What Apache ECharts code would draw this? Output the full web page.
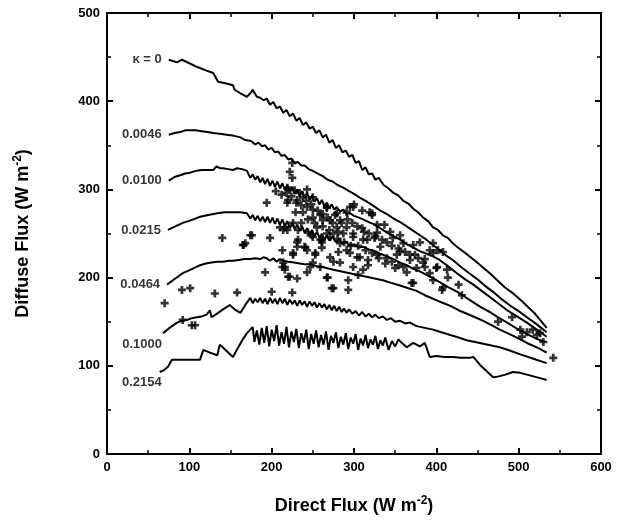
<!DOCTYPE html>
<html>
<head>
<meta charset="utf-8">
<script src="https://cdn.jsdelivr.net/npm/echarts@6/dist/echarts.min.js"></script>
<style>
  html, body { margin: 0; padding: 0; background: #fff; }
  #chart { width: 626px; height: 525px; }
</style>
</head>
<body>
<div id="chart"></div>
<script>
// curve labels, top to bottom
var kappaLabels = ['κ = 0', '0.0046', '0.0100', '0.0215', '0.0464', '0.1000', '0.2154']

// model curves [direct, diffuse]
var curveK0 = [[75,447],[85,444],[91,447],[100,443],[109,439],[120,435],[129,432],[135,422],[145,420],[153,418],[155,413],[162,409],[170,405],[175,410],[177,413],[182,405],[186,404],[190,401],[194,403],[198,396],[202,399],[206,392],[210,394],[214,387],[218,390],[222,383],[226,386],[230,378],[234,381],[238,373],[242,376],[246,369],[250,371],[254,364],[258,367],[262,359],[266,362],[270,353],[274,356],[278,347],[282,350],[286,342],[290,344],[294,337],[298,339],[302,330],[306,332],[310,322],[314,325],[318,317],[322,318],[326,311],[330,313],[336,305],[342,301],[348,296],[354,293],[360,287],[366,284],[372,278],[378,274],[384,268],[390,264],[396,257],[402,254],[408,248],[414,245],[420,239],[425,235],[435,228],[447,219],[456,212],[465,205],[474,197],[483,189],[492,183],[502,175],[511,167],[520,159],[527,151],[534,143]]
var curveK1 = [[75,362],[82,364],[89,365],[95,367],[101,367],[108,367],[115,366],[122,365],[129,364],[137,363],[145,362],[153,361],[162,359],[168,356],[175,355],[180,351],[184,353],[188,349],[192,350],[196,345],[200,347],[204,342],[208,343],[212,338],[216,339],[220,334],[224,335],[228,330],[232,331],[236,327],[240,327],[245,323],[250,321],[256,318],[262,315],[268,311],[274,309],[280,305],[287,302],[294,298],[300,295],[308,290],[316,286],[324,281],[332,276],[340,272],[348,267],[356,263],[364,258],[372,253],[380,248],[388,243],[396,237],[404,231],[412,225],[420,220],[430,212],[440,205],[450,198],[460,190],[470,183],[480,175],[490,168],[500,162],[510,155],[522,147],[534,138]]
var curveK2 = [[75,310],[82,314],[89,316],[95,318],[101,319],[108,321],[115,322],[122,322],[129,322],[133,326],[137,324],[141,324],[147,323],[153,322],[158,324],[164,323],[170,321],[174,313],[177,317],[180,311],[183,315],[186,308],[189,313],[192,306],[195,312],[198,304],[201,310],[204,303],[207,309],[210,301],[213,307],[216,299],[219,305],[222,297],[225,303],[228,295],[231,300],[234,293],[237,298],[240,291],[243,296],[246,288],[249,293],[252,286],[255,290],[258,283],[261,288],[264,281],[267,285],[270,279],[273,283],[276,277],[279,280],[283,275],[287,277],[291,272],[295,273],[300,270],[306,268],[311,266],[318,263],[325,260],[332,256],[340,251],[348,247],[356,243],[364,238],[372,234],[380,230],[388,227],[396,224],[404,220],[414,213],[425,205],[435,198],[445,192],[455,185],[465,178],[475,171],[486,163],[498,156],[510,149],[522,141],[534,133]]
var curveK3 = [[74,254],[83,258],[92,262],[99,264],[105,266],[113,269],[123,271],[134,273],[143,274],[153,274],[162,274],[170,273],[174,267],[177,271],[180,265],[183,270],[186,264],[189,269],[192,263],[195,269],[198,262],[201,268],[204,261],[207,267],[210,260],[213,266],[216,258],[219,264],[222,256],[225,262],[228,255],[231,260],[234,253],[237,258],[240,251],[243,256],[246,249],[249,254],[252,247],[255,252],[258,245],[261,250],[264,243],[267,248],[270,242],[274,246],[278,240],[282,244],[286,238],[290,241],[295,236],[300,238],[306,234],[311,235],[318,232],[325,230],[332,227],[340,224],[348,221],[356,217],[364,214],[372,210],[380,207],[388,203],[396,199],[404,195],[415,189],[425,184],[435,178],[445,172],[455,166],[465,161],[475,155],[486,149],[498,142],[510,136],[521,131],[532,127]]
var curveK4 = [[73,192],[80,197],[86,201],[92,205],[99,208],[106,211],[113,214],[120,216],[127,217],[134,218],[141,218],[148,219],[153,219],[160,220],[167,221],[174,221],[180,222],[186,221],[190,223],[194,222],[198,219],[202,222],[206,218],[210,221],[214,219],[220,218],[227,217],[234,216],[241,215],[248,215],[255,213],[262,212],[270,210],[275,209],[285,207],[295,205],[305,203],[315,201],[325,199],[335,197],[345,194],[356,191],[366,188],[376,185],[386,180],[396,176],[406,172],[417,168],[427,163],[437,159],[447,155],[457,151],[467,146],[477,141],[489,136],[502,130],[512,125],[524,120],[534,115]]
var curveK5 = [[68,137],[76,143],[85,149],[91,151],[97,152],[103,154],[109,155],[115,156],[121,158],[125,163],[127,155],[135,160],[141,164],[146,167],[149,169],[155,164],[162,160],[168,169],[174,177],[177,171],[180,176],[183,172],[186,177],[189,171],[192,176],[195,170],[198,177],[201,171],[204,176],[207,170],[210,177],[213,171],[216,176],[219,169],[222,175],[225,170],[228,174],[231,168],[234,174],[237,169],[240,173],[243,167],[246,173],[249,168],[252,172],[255,166],[258,171],[261,166],[264,170],[267,164],[270,169],[273,163],[276,168],[279,162],[282,167],[285,161],[288,165],[291,160],[294,164],[298,159],[302,162],[306,157],[310,161],[314,156],[318,159],[322,155],[326,158],[330,154],[335,156],[340,152],[345,154],[350,150],[356,151],[362,148],[368,149],[376,145],[386,143],[396,141],[406,138],[417,135],[427,132],[437,129],[447,127],[457,125],[467,123],[477,121],[490,117],[502,113],[518,108],[534,103]]
var curveK6 = [[64,93],[69,95],[74,99],[79,107],[87,107],[95,107],[104,107],[113,107],[117,118],[125,115],[134,112],[137,124],[145,117],[153,110],[160,122],[165,130],[170,137],[174,141],[177,144],[179,127],[182,140],[185,124],[188,143],[191,126],[194,145],[197,122],[200,141],[203,128],[206,146],[209,123],[212,138],[215,125],[218,144],[221,121],[224,139],[227,127],[230,142],[233,120],[236,137],[239,126],[242,141],[245,119],[248,136],[251,125],[254,140],[257,121],[260,135],[263,124],[266,139],[269,118],[272,134],[275,126],[278,138],[281,120],[284,133],[287,124],[290,137],[293,119],[296,132],[299,125],[302,136],[305,118],[308,131],[311,123],[314,135],[317,120],[320,130],[323,124],[326,134],[329,119],[332,129],[335,123],[338,132],[342,118],[346,128],[350,122],[354,130],[358,126],[364,121],[372,126],[380,122],[386,126],[392,110],[400,111],[410,110],[420,110],[430,109],[440,109],[445,110],[453,101],[460,95],[469,87],[476,88],[484,90],[493,93],[502,92],[510,90],[518,88],[526,86],[534,84]]

// observations [direct, diffuse]
var observed = [[194,285],[219,285],[140,245],[174,248],[166,237],[198,245],[214,254],[219,254],[192,206],[213,212],[216,209],[220,201],[91,186],[101,188],[70,171],[131,182],[158,183],[200,184],[107,146],[92,152],[103,146],
  [168,239],[176,248],[225,183],[231,199],[222,201],[213,231],[231,240],[243,231],[253,228],[261,240],[232,254],[226,262],[275,218],[267,200],[275,188],[293,186],[299,212],[305,203],[250,217],[259,212],[275,250],[283,239],[291,231],[299,250],[271,265],
  [222,320],[225,313],[219,302],[228,299],[220,288],[231,288],[238,291],[243,280],[250,277],[259,271],[267,280],[279,273],[291,274],[299,280],[255,257],[250,246],[267,250],[279,257],[287,250],[299,246],[311,243],[322,271],[328,260],[210,257],[231,235],[240,235],[259,243],[165,237],
  [225,330],[234,296],[243,300],[250,291],[229,274],[238,274],[250,268],[267,279],[277,271],[283,265],[295,280],[319,274],[216,257],[232,243],[241,234],[249,248],[261,243],[271,246],[281,252],[291,257],[310,256],[316,243],[325,245],[332,235],[304,223],[317,220],[328,226],[350,211],[226,226],[253,226],[271,223],[283,217],[273,188],[216,212],
  [244,251],[226,228],[261,234],[281,229],[295,228],[307,223],[317,214],[311,209],[243,206],[247,212],[214,217],[268,200],
  [340,222],[352,226],[360,212],[368,220],[376,211],[384,217],[392,205],[401,212],[413,209],[407,186],[370,194],[396,197],[328,251],[347,245],[360,239],[372,237],[392,231],[262,265],
  [374,226],[364,206],[372,194],[386,212],[400,211],[408,189],[414,200],[427,192],[431,180],[396,228],[402,231],[408,229],[380,240],[396,239],
  [475,150],[492,155],[502,141],[504,133],[510,138],[517,141],[522,135],[526,137],[530,127],[542,109],[293,197],[322,273],
  [300,283],[310,276],[337,260],[344,252],[356,248],[356,230],
  [205,298],[212,294],[218,296],[224,292],[230,285],[236,282],[242,287],[248,283],[256,276],[262,272],[268,268],[274,262],[285,262],[292,266],[298,262],[304,258],[312,252],[318,250],[326,247],[334,243],[340,240],[346,236],[354,233],[362,229],[368,226],[378,222],[386,221],
  [236,262],[244,266],[252,262],[262,258],[270,254],[280,244],[288,240],[296,236],[305,236],[314,231],[322,228],[330,222],[338,216],[346,218],[354,214]]

var curves = [curveK0, curveK1, curveK2, curveK3, curveK4, curveK5, curveK6]
var labelOffsets = [[0, 0], [0, 0], [0, 0], [0, 0], [0, 0], [6, 11], [9, 10]]

var FONT = 'Liberation Sans'
var myChart = echarts.init(document.getElementById('chart'))

var txt = {
  fontFamily: FONT,
  fontWeight: 'bold',
  fontSize: 13,
  color: '#000'
}
// axis titles with a superscript
var nameStyle = {
  rich: {
    t: { fontFamily: FONT, fontWeight: 'bold', fontSize: 18, color: '#000', lineHeight: 23 },
    s: { fontFamily: FONT, fontWeight: 'bold', fontSize: 12, color: '#000', lineHeight: 23, verticalAlign: 'top' }
  }
}

function axisBase(extra) {
  var base = {
    type: 'value',
    axisLine: { show: true, onZero: false, lineStyle: { color: '#000', width: 2 } },
    axisTick: { show: true, inside: true, length: 6, lineStyle: { color: '#000', width: 2 } },
    minorTick: { show: true, splitNumber: 2, length: 4, lineStyle: { color: '#000', width: 1.5 } },
    splitLine: { show: false },
    minorSplitLine: { show: false },
    axisLabel: Object.assign({ margin: 7 }, txt)
  }
  return Object.assign(base, extra)
}

var series = curves.map(function (c, i) {
  return {
    name: kappaLabels[i],
    type: 'line',
    data: c,
    symbol: 'none',
    lineStyle: { color: '#000', width: 2 },
    z: 3
  }
})

series.push({
  name: 'observed',
  type: 'scatter',
  data: observed,
  symbol: 'path://M3,0H6V3H9V6H6V9H3V6H0V3H3Z',
  symbolSize: 8,
  itemStyle: { color: '#000' },
  z: 4
})

// kappa labels at the start of every curve
series.push({
  name: 'labels',
  type: 'scatter',
  symbolSize: 0,
  silent: true,
  data: curves.map(function (c, i) {
    return {
      value: c[0],
      label: {
        show: true,
        position: 'left',
        distance: 7,
        offset: labelOffsets[i],
        formatter: kappaLabels[i],
        fontFamily: FONT,
        fontWeight: 'bold',
        fontSize: 13,
        color: '#000'
      }
    }
  })
})

var option = {
  animation: false,
  backgroundColor: '#fff',
  grid: { left: 107, right: 25, top: 13, bottom: 71 },
  xAxis: [
    axisBase({
      min: 0, max: 600, interval: 100,
      name: '{t|Direct Flux (W m}{s|-2}{t|)}',
      nameLocation: 'middle',
      nameGap: 41,
      nameTextStyle: nameStyle
    }),
    axisBase({
      position: 'top', min: 0, max: 600, interval: 100,
      axisLabel: { show: false }
    })
  ],
  yAxis: [
    axisBase({
      min: 0, max: 500, interval: 100,
      name: '{t|Diffuse Flux (W m}{s|-2}{t|)}',
      nameLocation: 'middle',
      nameGap: 72,
      nameTextStyle: nameStyle
    }),
    axisBase({
      position: 'right', min: 0, max: 500, interval: 100,
      axisLabel: { show: false }
    })
  ],
  series: series
}

myChart.setOption(option)
</script>
</body>
</html>
